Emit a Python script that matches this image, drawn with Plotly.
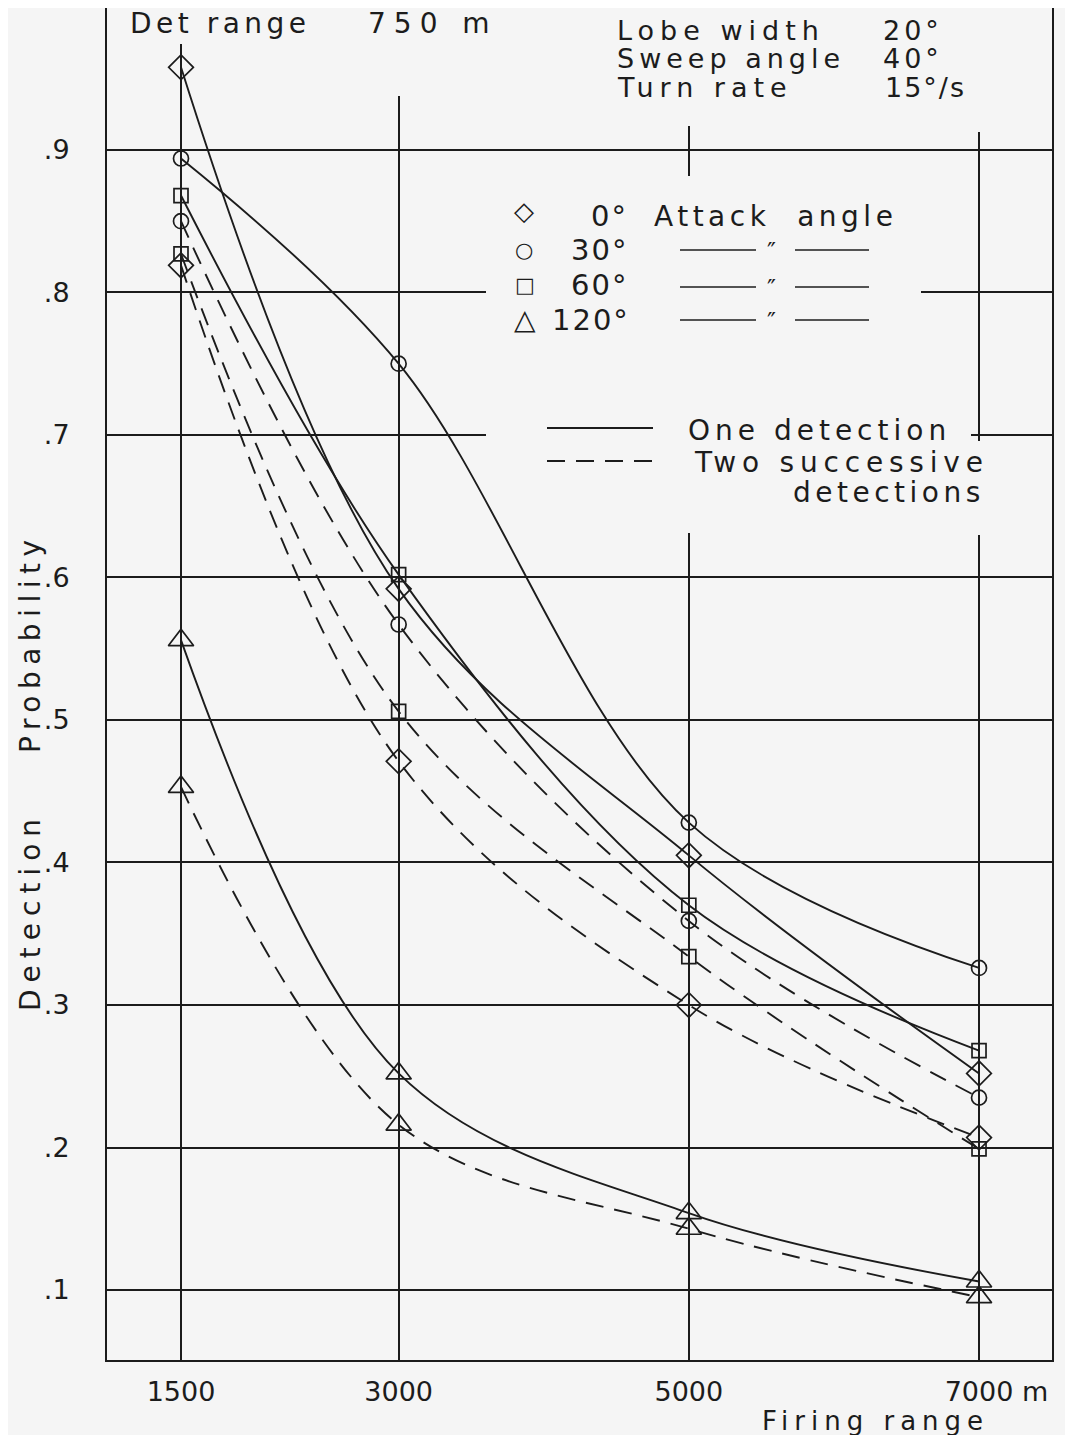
import plotly.graph_objects as go

# ---------------- data ----------------
firing_range = [1500, 3000, 5000, 7000]

one_det_0 = [0.958, 0.592, 0.405, 0.252]
one_det_30 = [0.894, 0.750, 0.428, 0.326]
one_det_60 = [0.868, 0.602, 0.370, 0.268]
one_det_120 = [0.556, 0.252, 0.154, 0.106]

two_det_0 = [0.819, 0.471, 0.300, 0.207]
two_det_30 = [0.850, 0.567, 0.359, 0.235]
two_det_60 = [0.827, 0.506, 0.334, 0.199]
two_det_120 = [0.453, 0.216, 0.143, 0.095]

x_ticks = [1500, 3000, 5000, 7000]
x_ticktext = ["1500", "3000", "5000", "7000"]
y_ticks = [0.1, 0.2, 0.3, 0.4, 0.5, 0.6, 0.7, 0.8, 0.9]
y_ticktext = [".1", ".2", ".3", ".4", ".5", ".6", ".7", ".8", ".9"]

# ---------------- layout constants (screen pixels) ----------------
OFF = 8                      # page body margin
W, H = 1073 - OFF, 1435 - OFF
L, R, T, B = 107, 1052, OFF, 1360
XR = [990, 7503]
YR = [0.0509, 0.9996]
BG = "#f5f5f5"
INK = "#1c1c1c"
FONT = "DejaVu Sans"


def px(x):
    return (x - L) / (R - L)


def py(y):
    return (B - y) / (B - T)


def dx(x):
    return XR[0] + px(x) * (XR[1] - XR[0])


def dy(y):
    return YR[0] + py(y) * (YR[1] - YR[0])


def ls(t, s):
    return f'<span style="letter-spacing:{s}px">{t}</span>'


fig = go.Figure()

series = [
    (one_det_0, "diamond-open", 19, "solid"),
    (one_det_30, "circle-open", 15, "solid"),
    (one_det_60, "square-open", 14, "solid"),
    (one_det_120, "triangle-up-open", 22, "solid"),
    (two_det_0, "diamond-open", 19, "18px,11px"),
    (two_det_30, "circle-open", 15, "18px,11px"),
    (two_det_60, "square-open", 14, "18px,11px"),
    (two_det_120, "triangle-up-open", 22, "18px,11px"),
]
for vals, sym, size, dash in series:
    fig.add_trace(go.Scatter(
        x=firing_range, y=vals, mode="lines+markers",
        line=dict(color=INK, width=1.9, dash=dash, shape="spline", smoothing=1.0),
        marker=dict(symbol=sym, size=size, color=INK, line=dict(width=1.7, color=INK)),
        showlegend=False, hoverinfo="skip", cliponaxis=False,
    ))

shapes = []
# gaps in the grid (blank paper behind texts)
for (x0, y0, x1, y1) in [
    (112, 8, 300, 44),
    (300, 8, 600, 96),
    (600, 8, 830, 126),
    (830, 8, 1047, 132),
    (486, 176, 921, 533),
    (921, 425, 971, 447),
    (960, 441, 1000, 535),
]:
    shapes.append(dict(type="rect", xref="x", yref="y",
                       x0=dx(x0), x1=dx(x1), y0=dy(y1), y1=dy(y0),
                       fillcolor=BG, line=dict(width=0), layer="between"))

# legend dash-ditto lines
for yy in [250, 287, 320]:
    for (a, b) in [(680, 756), (795, 869)]:
        shapes.append(dict(type="line", xref="paper", yref="paper",
                           x0=px(a), x1=px(b), y0=py(yy), y1=py(yy),
                           line=dict(color=INK, width=1.7), layer="above"))
# line-style legend
shapes.append(dict(type="line", xref="paper", yref="paper",
                   x0=px(547), x1=px(653), y0=py(428), y1=py(428),
                   line=dict(color=INK, width=1.9), layer="above"))
shapes.append(dict(type="line", xref="paper", yref="paper",
                   x0=px(547), x1=px(653), y0=py(461), y1=py(461),
                   line=dict(color=INK, width=1.9, dash="18px,11px"), layer="above"))

ann = []


def text(x, y, t, size=26, xanchor="left", angle=0, spacing=0):
    ann.append(dict(xref="paper", yref="paper", x=px(x), y=py(y),
                    text=ls(t, spacing) if spacing else t, showarrow=False,
                    xanchor=xanchor, yanchor="middle", textangle=angle,
                    font=dict(family=FONT, size=size, color=INK)))


# header texts
text(128, 23, "Det range", size=28, spacing=4.5)
text(366, 23, "750 m", size=28, spacing=8)
text(615, 30, "Lobe width", size=27, spacing=6)
text(881, 30, "20°", size=27, spacing=4)
text(615, 58, "Sweep angle", size=27, spacing=5)
text(881, 58, "40°", size=27, spacing=4)
text(615, 87, "Turn rate", size=27, spacing=6)
text(883, 87, "15°/s", size=27, spacing=2)

# symbol legend
text(524, 211, "◇", size=26, xanchor="center")
text(524, 250, "○", size=21, xanchor="center")
text(525, 285, "□", size=21, xanchor="center")
text(525, 319, "△", size=28, xanchor="center")
text(630, 216, "0°", size=29, xanchor="right", spacing=2)
text(630, 250, "30°", size=29, xanchor="right", spacing=2)
text(630, 285, "60°", size=29, xanchor="right", spacing=2)
text(632, 320, "120°", size=29, xanchor="right", spacing=2)
text(652, 216, "Attack  angle", size=28, spacing=4.5)
for yy in [252, 289, 322]:
    text(771, yy, "″", size=24, xanchor="center")

text(686, 430, "One detection", size=28, spacing=5)
text(692, 462, "Two successive", size=28, spacing=5.8)
text(987, 492, "detections", size=28, xanchor="right", spacing=4.5)

# axis titles
text(30, 643, "Probability", size=28, xanchor="center", angle=-90, spacing=6.5)
text(30, 912, "Detection", size=28, xanchor="center", angle=-90, spacing=7)
text(760, 1421, "Firing range", size=26, spacing=6)
text(1020, 1392, "m", size=27)

fig.update_layout(
    width=W, height=H,
    margin=dict(l=L - OFF, r=(W + OFF) - R, t=T - OFF, b=(H + OFF) - B, pad=0),
    paper_bgcolor=BG, plot_bgcolor=BG,
    shapes=shapes, annotations=ann,
    xaxis=dict(range=XR, tickvals=x_ticks, ticktext=x_ticktext,
               showgrid=True, gridcolor=INK, gridwidth=1.7, zeroline=False,
               showline=True, linecolor=INK, linewidth=2, mirror=False,
               ticks="", ticklabelstandoff=7,
               tickfont=dict(family=FONT, size=27, color=INK)),
    yaxis=dict(range=YR, tickvals=y_ticks, ticktext=y_ticktext,
               showgrid=True, gridcolor=INK, gridwidth=1.7, zeroline=False,
               showline=True, linecolor=INK, linewidth=2, mirror=True,
               ticks="", ticklabelstandoff=30,
               tickfont=dict(family=FONT, size=27, color=INK)),
)

fig.write_html("out.html")
